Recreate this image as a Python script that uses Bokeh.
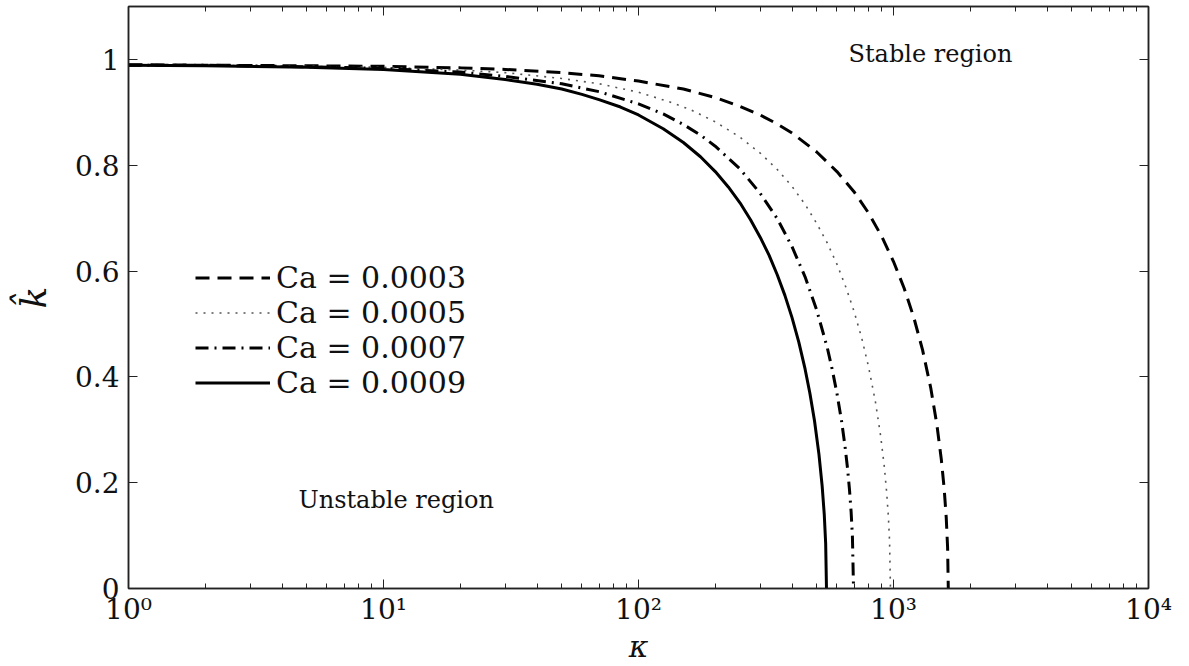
from bokeh.plotting import figure
from bokeh.models import (Range1d, LogAxis, LinearAxis, FixedTicker, Legend,
                          LegendItem, Label)
from bokeh.embed import file_html
from bokeh.resources import INLINE

# ---- data ----
kappa_ca3 = [1, 2, 5, 10, 20, 30, 50, 70, 100, 150, 200, 250, 300, 350, 400, 500, 600, 700, 800, 900,
             1000, 1100, 1200, 1300, 1400, 1480, 1540, 1580, 1610, 1630, 1640]
k_ca3 = [0.990, 0.989, 0.988, 0.987, 0.984, 0.981, 0.975, 0.969, 0.959, 0.944, 0.928, 0.911, 0.895,
         0.878, 0.861, 0.825, 0.788, 0.750, 0.709, 0.665, 0.618, 0.568, 0.513, 0.451, 0.379, 0.309,
         0.244, 0.189, 0.134, 0.077, 0.0]

kappa_ca5 = [1, 2, 5, 10, 20, 30, 50, 70, 100, 130, 160, 200, 250, 300, 350, 400, 450, 500, 550, 600,
             650, 700, 750, 800, 850, 890, 920, 940, 955, 965, 973]
k_ca5 = [0.990, 0.989, 0.987, 0.985, 0.980, 0.975, 0.964, 0.954, 0.938, 0.921, 0.905, 0.882, 0.853,
         0.823, 0.792, 0.760, 0.726, 0.690, 0.653, 0.613, 0.570, 0.524, 0.474, 0.417, 0.352, 0.289,
         0.231, 0.182, 0.135, 0.090, 0.0]

kappa_ca7 = [1, 2, 5, 10, 20, 30, 50, 70, 100, 125, 150, 175, 200, 250, 300, 350, 400, 450, 500, 550,
             575, 600, 625, 645, 660, 672, 682, 690, 697]
k_ca7 = [0.989, 0.989, 0.986, 0.983, 0.976, 0.968, 0.954, 0.939, 0.916, 0.897, 0.877, 0.857, 0.836,
         0.793, 0.747, 0.699, 0.646, 0.589, 0.526, 0.455, 0.414, 0.369, 0.318, 0.270, 0.228, 0.187,
         0.145, 0.099, 0.0]

kappa_ca9 = [1, 2, 5, 10, 20, 30, 40, 50, 60, 70, 85, 100, 125, 150, 175, 200, 225, 250, 275, 300, 325,
             350, 375, 400, 425, 450, 470, 490, 510, 525, 535, 542, 546]
k_ca9 = [0.989, 0.988, 0.985, 0.981, 0.972, 0.962, 0.953, 0.944, 0.934, 0.924, 0.910, 0.895, 0.869,
         0.843, 0.816, 0.788, 0.759, 0.729, 0.697, 0.664, 0.630, 0.593, 0.554, 0.512, 0.466, 0.415,
         0.369, 0.317, 0.254, 0.194, 0.141, 0.085, 0.0]

series_labels = ["Ca = 0.0003", "Ca = 0.0005", "Ca = 0.0007", "Ca = 0.0009"]

x_tick_values = [1, 10, 100, 1000, 10000]
x_tick_labels = ["10⁰", "10¹", "10²", "10³", "10⁴"]
y_tick_values = [0, 0.2, 0.4, 0.6, 0.8, 1.0]
y_tick_labels = ["0", "0.2", "0.4", "0.6", "0.8", "1"]

stable_text = "Stable region"
unstable_text = "Unstable region"

FONT = "DejaVu Serif"

p = figure(width=1189, height=666, x_axis_type="log",
           x_range=Range1d(1, 1e4), y_range=Range1d(0, 1.1),
           output_backend="svg", toolbar_location=None,
           min_border_left=128, min_border_right=41,
           min_border_top=6, min_border_bottom=75)
p.grid.visible = False
p.outline_line_color = "#222222"
p.outline_line_width = 1.5
p.background_fill_color = "white"
p.border_fill_color = "white"

minor = [m * 10 ** e for e in range(4) for m in range(2, 10)]
xt = FixedTicker(ticks=x_tick_values, minor_ticks=minor)
yt = FixedTicker(ticks=y_tick_values)

def style_axis(ax):
    ax.axis_line_color = "#222222"
    ax.axis_line_width = 1.5
    ax.major_tick_in = 9
    ax.major_tick_out = 0
    ax.minor_tick_in = 5
    ax.minor_tick_out = 0
    ax.major_tick_line_color = "#222222"
    ax.minor_tick_line_color = "#222222"
    ax.major_label_text_font = FONT
    ax.major_label_text_font_size = "28px"
    ax.major_label_text_color = "#111111"

xa = p.xaxis[0]
style_axis(xa)
xa.ticker = xt
xa.major_label_overrides = dict(zip(x_tick_values, x_tick_labels))
xa.major_label_standoff = 4
xa.axis_label = "κ"
xa.axis_label_text_font = FONT
xa.axis_label_text_font_style = "italic"
xa.axis_label_text_font_size = "30px"
xa.axis_label_text_color = "#111111"
xa.axis_label_standoff = 0

ya = p.yaxis[0]
style_axis(ya)
ya.ticker = yt
ya.minor_tick_line_color = None
ya.major_label_overrides = dict(zip(y_tick_values, y_tick_labels))
ya.major_label_standoff = 9
ya.axis_label = "k̂"
ya.axis_label_text_font = FONT
ya.axis_label_text_font_style = "italic"
ya.axis_label_text_font_size = "36px"
ya.axis_label_text_color = "#111111"
ya.axis_label_standoff = 18

top = LogAxis(ticker=xt)
style_axis(top)
top.major_label_text_font_size = "1px"
top.major_label_text_alpha = 0
top.major_label_standoff = 0
p.add_layout(top, "above")

right = LinearAxis(ticker=yt)
style_axis(right)
right.minor_tick_line_color = None
right.major_label_text_font_size = "1px"
right.major_label_text_alpha = 0
right.major_label_standoff = 0
p.add_layout(right, "right")

r3 = p.line(kappa_ca3, k_ca3, line_color="black", line_width=3, line_dash="14 8")
r5 = p.line(kappa_ca5, k_ca5, line_color="#555555", line_width=1.6, line_dash="2 6")
r7 = p.line(kappa_ca7, k_ca7, line_color="black", line_width=3, line_dash="13 6 2 6")
r9 = p.line(kappa_ca9, k_ca9, line_color="black", line_width=3)

items = [LegendItem(label=lab, renderers=[r]) for lab, r in zip(series_labels, [r3, r5, r7, r9])]
legend = Legend(items=items, location=(67, 188))
legend.border_line_color = None
legend.background_fill_alpha = 0
legend.padding = 0
legend.margin = 0
legend.spacing = 0
legend.label_height = 35
legend.glyph_height = 35
legend.glyph_width = 75
legend.label_standoff = 6
legend.label_text_font = FONT
legend.label_text_font_size = "30px"
legend.label_text_color = "#111111"
p.add_layout(legend)

p.add_layout(Label(x=666, y=1.01, text=stable_text, text_font=FONT,
                   text_font_size="24px", text_baseline="middle", text_color="#111111"))
p.add_layout(Label(x=4.64, y=0.167, text=unstable_text, text_font=FONT,
                   text_font_size="24px", text_baseline="middle", text_color="#111111"))

open("out.html", "w").write(file_html(p, INLINE))
